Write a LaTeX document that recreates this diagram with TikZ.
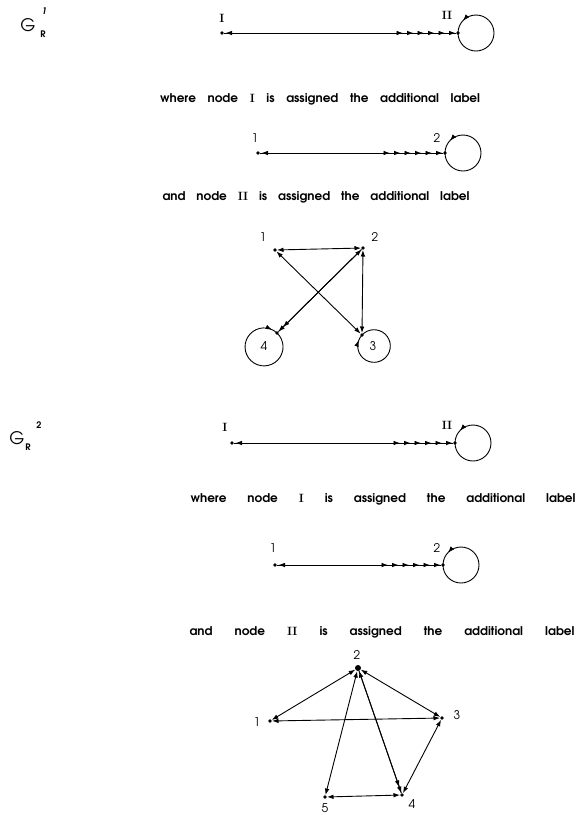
\documentclass[tikz,border=0pt]{standalone}
\usepackage[T1,TU]{fontenc}
\usetikzlibrary{arrows.meta,decorations.markings}
\newcommand\agfont{\fontencoding{T1}\fontfamily{pag}\selectfont}

\tikzset{
  x=1pt, y=-1pt,
  >={Latex[length=6.5pt,width=4.6pt]},
  dot/.style={circle, fill, inner sep=0pt, minimum size=3.6pt},
  lbl/.style={font=\agfont\large, inner sep=0pt},
  rn/.style={font=\normalfont\large\bfseries, inner sep=0pt},
  txt/.style={font=\agfont\large\bfseries, inner sep=0pt},
  gl/.style={font=\agfont\LARGE, inner sep=0pt},
  gs/.style={font=\agfont\small\bfseries, inner sep=0pt},
  edge/.style={line width=0.9pt},
  % long connector: one head at its start, a row of heads at its end
  train/.style={edge, postaction={decorate}, decoration={markings,
    mark=at position 1.5pt with {\arrowreversed{>}},
    mark=at position -0.5pt with {\arrow{>}},
    mark=at position -11pt with {\arrow{>}},
    mark=at position -21.5pt with {\arrow{>}},
    mark=at position -32pt with {\arrow{>}},
    mark=at position -42.5pt with {\arrow{>}},
    mark=at position -53pt with {\arrow{>}}}},
  % self loop with one head at the given fraction
  loopc/.style={edge, postaction={decorate}, decoration={markings,
    mark=at position #1 with {\arrow{>}}}},
}

\begin{document}
\begin{tikzpicture}
\useasboundingbox[fill=white] (0,0) rectangle (579,815);

% ---------- G_R^1 ----------
\node[gl] (g1) at (28,25) {G};
\node[gs] (g1r) at (43,34) {R};
\node[gs] (g1s) at (44,11) {\textit{1}};

\node[dot] (A1) at (222,33) {};
\node[dot] (A2) at (458,33) {};
\node[rn] at (222,18) {I};
\node[rn] at (447,15) {II};
\draw[train] (A1) -- (A2);
\draw[loopc=0.88] (A2.center) arc[start angle=180, end angle=-180, radius=18];

\node[txt] at (320,100) {\makebox[320pt][s]{where node {\normalfont\bfseries I} is assigned the additional label}};

\node[dot] (B1) at (258,153) {};
\node[dot] (B2) at (445,153) {};
\node[lbl] at (255,138) {1};
\node[lbl] at (437,138) {2};
\draw[train] (B1) -- (B2);
\draw[loopc=0.88] (B2.center) arc[start angle=180, end angle=-180, radius=18];

\node[txt] at (316,198) {\makebox[307pt][s]{and node {\normalfont\bfseries II} is assigned the additional label}};

% four-node graph
\node[dot] (C1) at (275,250) {};
\node[dot] (C2) at (363,248) {};
\node[dot] (C3) at (362,335) {};
\node[dot] (C4) at (277,333) {};
\node[lbl] at (263,237) {1};
\node[lbl] at (375,237) {2};
\node[lbl] at (373,346) {3};
\node[lbl] at (264,346) {4};
\draw[edge,<->] (C1) -- (C2);
\draw[edge,<->] (C1) -- (C3);
\draw[edge,<->] (C2) -- (C3);
\draw[edge,<-] (C2) -- (C4);
\draw[edge,->>] (C2) -- (C4);
\draw[loopc=0.94] (C3.center) arc[start angle=222.5, end angle=582.5, radius=16.3];
\draw[loopc=0.95] (C4.center) arc[start angle=-47, end angle=313, radius=19];

% ---------- G_R^2 ----------
\node[gl] (g2) at (17,438) {G};
\node[gs] (g2r) at (28,447) {R};
\node[gs] (g2s) at (39,425) {2};

\node[dot] (D1) at (232,443) {};
\node[dot] (D2) at (455,443) {};
\node[rn] at (225,427) {I};
\node[rn] at (447,425) {II};
\draw[train] (D1) -- (D2);
\draw[loopc=0.88] (D2.center) arc[start angle=180, end angle=-180, radius=18];

\node[txt] at (383,500) {\makebox[385pt][s]{where node {\normalfont\bfseries I} is assigned the additional label}};

\node[dot] (E1) at (275,565) {};
\node[dot] (E2) at (443,565) {};
\node[lbl] at (273,548) {1};
\node[lbl] at (437,548) {2};
\draw[train] (E1) -- (E2);
\draw[loopc=0.88] (E2.center) arc[start angle=180, end angle=-180, radius=18];

\node[txt] at (382,633) {\makebox[385pt][s]{and node {\normalfont\bfseries II} is assigned the additional label}};

% five-node graph
\node[dot] (F1) at (270,721) {};
\node[dot, minimum size=6pt] (F2) at (358,668) {};
\node[dot] (F3) at (442,718) {};
\node[dot] (F4) at (402,795) {};
\node[dot] (F5) at (325,797) {};
\node[lbl] at (257,722) {1};
\node[lbl] at (357,655) {2};
\node[lbl] at (457,715) {3};
\node[lbl] at (412,804) {4};
\node[lbl] at (325,808) {5};
\draw[edge,<->] (F2) -- (F1);
\draw[edge,<->] (F2) -- (F3);
\draw[edge,<->] (F1) -- (F3);
\draw[edge,<->] (F2) -- (F5);
\draw[edge,<-] (F2) -- (F4);
\draw[edge,->>] (F2) -- (F4);
\draw[edge,<->] (F5) -- (F4);
\draw[edge,<->] (F4) -- (F3);
\end{tikzpicture}
\end{document}
